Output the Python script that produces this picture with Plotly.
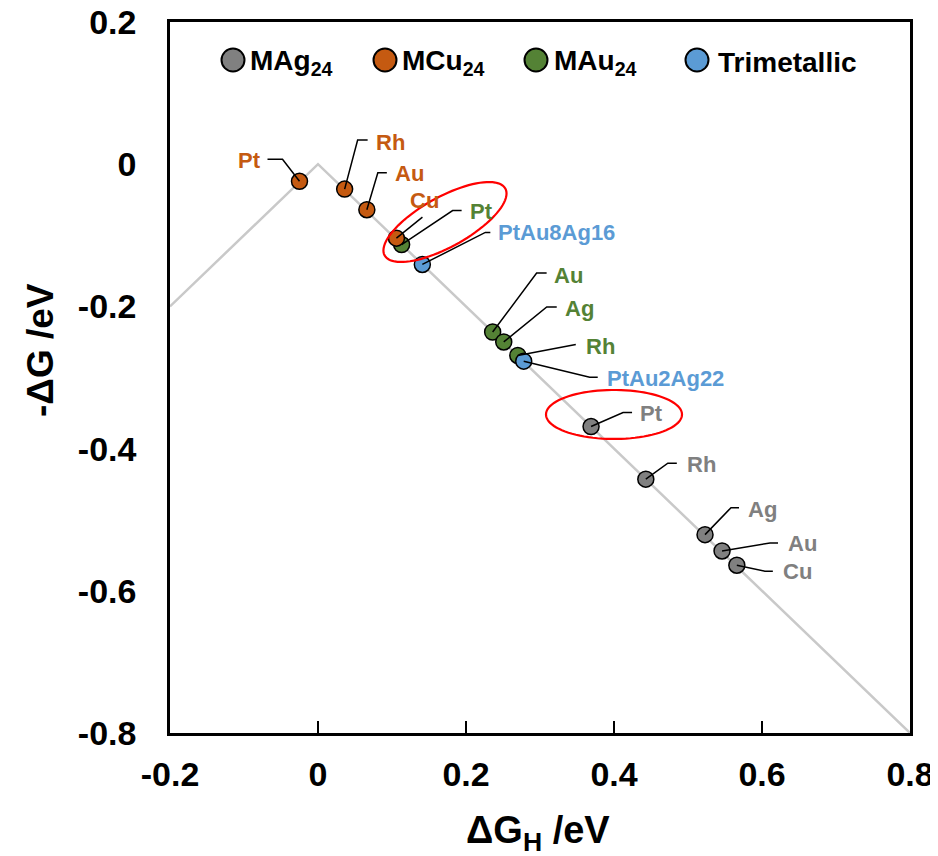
import math
import plotly.graph_objects as go

# ---------------- data ----------------
x_ticks = [-0.2, 0, 0.2, 0.4, 0.6, 0.8]
x_tick_labels = ["-0.2", "0", "0.2", "0.4", "0.6", "0.8"]
y_ticks = [0.2, 0, -0.2, -0.4, -0.6, -0.8]
y_tick_labels = ["0.2", "0", "-0.2", "-0.4", "-0.6", "-0.8"]

volcano_x = [-0.2, 0.0, 0.8]
volcano_y = [-0.2, 0.0, -0.8]

mau_labels = ["Pt", "Au", "Ag", "Rh"]
mau_x = [0.113, 0.236, 0.251, 0.270]
mau_y = [-0.113, -0.236, -0.250, -0.269]

mcu_labels = ["Pt", "Rh", "Au", "Cu"]
mcu_x = [-0.025, 0.036, 0.066, 0.106]
mcu_y = [-0.024, -0.035, -0.064, -0.104]

mag_labels = ["Pt", "Rh", "Ag", "Au", "Cu"]
mag_x = [0.369, 0.443, 0.523, 0.546, 0.566]
mag_y = [-0.369, -0.443, -0.521, -0.544, -0.564]

tri_labels = ["PtAu8Ag16", "PtAu2Ag22"]
tri_x = [0.141, 0.278]
tri_y = [-0.141, -0.277]

series_names = ["MAg<sub>24</sub>", "MCu<sub>24</sub>", "MAu<sub>24</sub>", "Trimetallic"]

# ---------------- styles ----------------
FONT = "Liberation Sans, Arial, sans-serif"
C_GREY = "#808080"
C_ORANGE = "#C55A11"
C_GREEN = "#548235"
C_BLUE = "#5B9BD5"

# page body margin (the html page offsets the figure by ~8px)
PAGE_OFF = 8

# label placement (pixels, y positive up): elbow, line end, text position, anchor
label_place = {
    ("mcu", "Pt"): ((-17, 22), (-32, 22), (-37, 21), "right"),
    ("mcu", "Rh"): ((13, 49), (23, 49), (29, 47), "left"),
    ("mcu", "Au"): ((11, 37), (20, 37), (26, 36), "left"),
    ("mcu", "Cu"): ((26, 21), (26, 21), (28, 38), "center"),
    ("mau", "Pt"): ((51, 34), (60, 34), (66, 33), "left"),
    ("mau", "Au"): ((44, 59), (54, 59), (59, 57), "left"),
    ("mau", "Ag"): ((43, 35), (53, 35), (59, 33), "left"),
    ("mau", "Rh"): ((58, 11), (58, 11), (66, 9), "left"),
    ("tri", "PtAu8Ag16"): ((63, 32), (68, 32), (74, 32), "left"),
    ("tri", "PtAu2Ag22"): ((66, -16), (74, -16), (81, -17), "left"),
    ("mag", "Pt"): ((32, 14), (41, 14), (47, 13), "left"),
    ("mag", "Rh"): ((22, 16), (31, 16), (39, 15), "left"),
    ("mag", "Ag"): ((26, 27), (34, 27), (41, 25), "left"),
    ("mag", "Au"): ((48, 8), (56, 8), (64, 7), "left"),
    ("mag", "Cu"): ((28, -6), (36, -6), (44, -6), "left"),
}

fig = go.Figure()

fig.add_trace(go.Scatter(x=volcano_x, y=volcano_y, mode="lines",
                         line=dict(color="#C9C9C9", width=2.5),
                         showlegend=False, hoverinfo="skip"))

series = [
    ("mau", mau_labels, mau_x, mau_y, C_GREEN, series_names[2]),
    ("mcu", mcu_labels, mcu_x, mcu_y, C_ORANGE, series_names[1]),
    ("mag", mag_labels, mag_x, mag_y, C_GREY, series_names[0]),
    ("tri", tri_labels, tri_x, tri_y, C_BLUE, series_names[3]),
]

shapes = []
annotations = []

for key, labels, xs, ys, color, name in series:
    fig.add_trace(go.Scatter(
        x=xs, y=ys, mode="markers", name=name, text=labels,
        marker=dict(size=16, color=color, line=dict(color="black", width=1.5)),
        showlegend=False))
    for lab, xv, yv in zip(labels, xs, ys):
        (ex, ey), (hx, hy), (tx, ty), anchor = label_place[(key, lab)]
        shapes.append(dict(
            type="path", xref="x", yref="y",
            xsizemode="pixel", ysizemode="pixel", xanchor=xv, yanchor=yv,
            path=f"M0,0 L{ex},{ey} L{hx},{hy}",
            line=dict(color="black", width=1.5)))
        annotations.append(dict(
            x=xv, y=yv, xref="x", yref="y", text=lab, showarrow=False,
            xanchor=anchor, yanchor="middle", xshift=tx, yshift=ty,
            font=dict(family=FONT, size=22, color=color, weight="bold")))


def ellipse_path(a, b, theta_deg, n=90):
    th = math.radians(theta_deg)
    pts = []
    for i in range(n + 1):
        t = 2 * math.pi * i / n
        px = a * math.cos(t) * math.cos(th) - b * math.sin(t) * math.sin(th)
        py = a * math.cos(t) * math.sin(th) + b * math.sin(t) * math.cos(th)
        pts.append(f"{px:.2f},{py:.2f}")
    return "M" + " L".join(pts) + " Z"


# highlight ellipses (centre in data coords, semi-axes in pixels)
for cx, cy, a, b, ang in [(0.1716, -0.0813, 69, 25, 29), (0.4, -0.352, 68, 24.5, 0)]:
    shapes.append(dict(type="path", xref="x", yref="y", xsizemode="pixel",
                       ysizemode="pixel", xanchor=cx, yanchor=cy,
                       path=ellipse_path(a, b, ang),
                       line=dict(color="#FF0000", width=2.2)))

# manual legend (pixel positions measured on the page)
leg_colors = [C_GREY, C_ORANGE, C_GREEN, C_BLUE]
leg_marker_px = [233, 385, 536, 697]
leg_text_px = [248, 400, 552, 716]
plot_l, plot_w, plot_b, plot_h = 170, 740, 733, 711
leg_y = (plot_b - 60) / plot_h
for name, col, mx, tx in zip(series_names, leg_colors, leg_marker_px, leg_text_px):
    shapes.append(dict(type="circle", xref="paper", yref="paper",
                       xsizemode="pixel", ysizemode="pixel",
                       xanchor=(mx - plot_l) / plot_w, yanchor=leg_y,
                       x0=-11.5, x1=11.5, y0=-11.5, y1=11.5,
                       fillcolor=col, line=dict(color="black", width=2)))
    annotations.append(dict(x=(tx - plot_l) / plot_w, y=leg_y, xref="paper", yref="paper",
                            text=name, showarrow=False, xanchor="left", yanchor="middle",
                            yshift=-2,
                            font=dict(family=FONT, size=28, color="black", weight="bold")))

# axis titles
annotations.append(dict(x=0, y=(plot_b - 350) / plot_h, xref="paper", yref="paper",
                        text="-ΔG /eV", showarrow=False, textangle=-90,
                        xanchor="center", yanchor="middle", xshift=-130,
                        font=dict(family=FONT, size=37, color="black", weight="bold")))
annotations.append(dict(x=(538 - plot_l) / plot_w, y=0, xref="paper", yref="paper",
                        text="ΔG<sub>H</sub> /eV", showarrow=False,
                        xanchor="center", yanchor="middle", yshift=-100,
                        font=dict(family=FONT, size=38, color="black", weight="bold")))

fig.update_layout(
    width=938 - PAGE_OFF, height=856 - PAGE_OFF,
    margin=dict(l=170 - PAGE_OFF, r=28, t=22 - PAGE_OFF, b=123, autoexpand=False),
    paper_bgcolor="white", plot_bgcolor="white",
    shapes=shapes, annotations=annotations, showlegend=False,
    xaxis=dict(range=[-0.2, 0.8], tickvals=x_ticks, ticktext=x_tick_labels,
               showline=True, mirror=True, linecolor="black", linewidth=2.5,
               showgrid=False, zeroline=False, ticks="inside", ticklen=12,
               tickwidth=2, tickcolor="black", ticklabelstandoff=9,
               automargin=False, ticklabeloverflow="allow",
               tickfont=dict(family=FONT, size=34, color="black", weight="bold")),
    yaxis=dict(range=[-0.8, 0.2], tickvals=y_ticks, ticktext=y_tick_labels,
               showline=True, mirror=True, linecolor="black", linewidth=2.5,
               showgrid=False, zeroline=False, ticks="", ticklabelstandoff=24,
               automargin=False, ticklabeloverflow="allow",
               tickfont=dict(family=FONT, size=34, color="black", weight="bold")),
)

fig.write_html("out.html")
